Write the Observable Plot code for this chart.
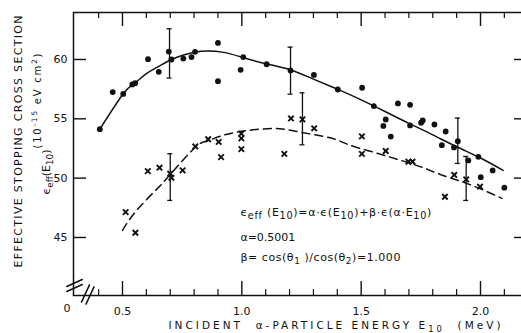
<!DOCTYPE html>
<html>
<head>
<meta charset="utf-8">
<script src="https://cdn.jsdelivr.net/npm/d3@7"></script>
<script src="https://cdn.jsdelivr.net/npm/@observablehq/plot@0.6"></script>
<style>
  html, body { margin: 0; padding: 0; background: #fff; }
  #chart svg { display: block; }
</style>
</head>
<body>
<div id="chart"></div>
<script>
// ---- data ----
const circleX = [0.405, 0.459, 0.503, 0.541, 0.553, 0.607, 0.652, 0.694, 0.705, 0.755, 0.789, 0.804, 0.900, 0.900,
  0.995, 1.006, 1.104, 1.204, 1.302, 1.402, 1.504, 1.553, 1.593, 1.603, 1.624, 1.654, 1.705, 1.705, 1.751, 1.758,
  1.807, 1.838, 1.854, 1.889, 1.905, 1.949, 1.991, 2.001, 2.051, 2.100];
const circleY = [54.13, 57.25, 57.10, 57.90, 58.00, 60.03, 58.96, 60.67, 60.00, 60.08, 60.20, 60.65, 61.40, 58.17,
  59.13, 60.20, 59.60, 59.07, 58.70, 57.47, 57.62, 56.07, 54.40, 54.95, 53.50, 56.30, 56.18, 54.44, 54.67, 54.86,
  54.52, 52.78, 53.93, 52.59, 53.12, 51.49, 51.80, 50.08, 50.65, 49.20];

const crossX = [0.513, 0.554, 0.606, 0.655, 0.700, 0.705, 0.752, 0.805, 0.859, 0.903, 0.913, 0.998, 0.998, 0.998,
  1.178, 1.206, 1.254, 1.303, 1.503, 1.503, 1.603, 1.698, 1.715, 1.851, 1.890, 1.940, 1.998];
const crossY = [47.14, 45.40, 50.59, 50.88, 50.37, 50.03, 50.65, 52.67, 53.28, 53.05, 51.77, 53.75, 53.35, 52.45,
  52.05, 55.03, 54.95, 54.20, 53.52, 52.05, 52.29, 51.38, 51.38, 48.43, 50.27, 49.90, 49.28];

// error bars: x, low, high
const circleBarX = [0.697, 1.204, 1.905];
const circleBarLo = [58.44, 57.08, 51.24];
const circleBarHi = [62.59, 61.04, 55.06];
const crossBarX = [0.700, 1.254, 1.940];
const crossBarLo = [48.12, 52.81, 48.12];
const crossBarHi = [52.06, 57.19, 51.83];

// fitted curves
const solidX = [0.405, 0.503, 0.547, 0.600, 0.650, 0.705, 0.760, 0.830, 0.924, 1.008, 1.107, 1.205, 1.300, 1.400, 1.500, 1.600, 1.700, 1.800, 1.900, 2.000, 2.095];
const solidY = [54.13, 57.11, 57.95, 58.80, 59.40, 60.00, 60.40, 60.70, 60.60, 60.14, 59.62, 59.12, 58.35, 57.50, 56.60, 55.62, 54.62, 53.65, 52.65, 51.70, 50.65];
const dashedX = [0.50, 0.56, 0.65, 0.70, 0.80, 0.85, 0.92, 1.00, 1.09, 1.17, 1.25, 1.37, 1.45, 1.55, 1.65, 1.75, 1.84, 1.95, 2.09];
const dashedY = [45.6, 47.3, 49.2, 50.3, 52.5, 53.1, 53.6, 53.95, 54.15, 54.15, 53.85, 53.4, 52.8, 52.2, 51.6, 50.95, 50.25, 49.5, 48.3];

// ticks
const xMajorTicks = [0.5, 1.0, 1.5, 2.0];
const xMinorTicks = [0.4, 0.6, 0.7, 0.8, 0.9, 1.1, 1.2, 1.3, 1.4, 1.6, 1.7, 1.8, 1.9, 2.1];
const yTicks = [45, 50, 55, 60];

// texts
const yTitle1 = "EFFECTIVE STOPPING CROSS SECTION";
const yTitle2 = "(10^{-15} eV cm^{2})";
const yTitle3 = "ϵ_{eff}(E_{10})";
const xTitle = "INCIDENT  α-PARTICLE ENERGY E_{10}  (MeV)";
const eqLines = ["ϵ_{eff} (E_{10})=α·ϵ(E_{10})+β·ϵ(α·E_{10})", "α=0.5001", "β= cos(θ_{1} )/cos(θ_{2})=1.000"];

// ---- tables ----
const circles = circleX.map((x, i) => ({x, y: circleY[i]}));
const crosses = crossX.map((x, i) => ({x, y: crossY[i]}));
const circleBars = circleBarX.map((x, i) => ({x, lo: circleBarLo[i], hi: circleBarHi[i]}));
const crossBars = crossBarX.map((x, i) => ({x, lo: crossBarLo[i], hi: crossBarHi[i]}));
const bars = circleBars.concat(crossBars);
const solid = solidX.map((x, i) => ({x, y: solidY[i]}));
const dashed = dashedX.map((x, i) => ({x, y: dashedY[i]}));

const W = 521, H = 333, mL = 73, mR = -1, mT = 12, mB = 38;
const frameH = H - mT - mB, frameW = W - mL - mR;
const ink = "#111";

const breakShape = {
  draw(context, l) { context.moveTo(0, 0); context.lineTo(0, -l); }
};

const svg = Plot.plot({
  width: W, height: H,
  marginLeft: mL, marginRight: mR, marginTop: mT, marginBottom: mB,
  style: {fontFamily: "DejaVu Sans", fontSize: "11px", color: ink, background: "#fff", overflow: "hidden"},
  x: {domain: [0.2947, 2.1760], label: null},
  y: {domain: [40.11, 63.96], label: null},
  marks: [
    Plot.frame({stroke: ink, strokeWidth: 1.5}),
    // ticks inward
    Plot.tickX(xMinorTicks, {x: d => d, insetTop: frameH - 6, stroke: ink, strokeWidth: 1.2}),
    Plot.tickX(xMinorTicks, {x: d => d, insetBottom: frameH - 6, stroke: ink, strokeWidth: 1.2}),
    Plot.tickX(xMajorTicks, {x: d => d, insetTop: frameH - 14, stroke: ink, strokeWidth: 1.4}),
    Plot.tickX(xMajorTicks, {x: d => d, insetBottom: frameH - 14, stroke: ink, strokeWidth: 1.4}),
    Plot.tickY(yTicks, {y: d => d, insetRight: frameW - 13, stroke: ink, strokeWidth: 1.4}),
    Plot.tickY(yTicks, {y: d => d, insetLeft: frameW - 8, stroke: ink, strokeWidth: 1.4}),
    Plot.axisX(xMajorTicks, {tickSize: 0, tickPadding: 12, tickFormat: d3.format(".1f"), fontSize: 11}),
    Plot.axisY(yTicks, {tickSize: 0, tickPadding: 6, fontSize: 11}),
    Plot.text(["0"], {frameAnchor: "bottom-left", dx: -10, dy: 16, fontSize: 11}),
    // axis breaks
    Plot.vector([0], {frameAnchor: "bottom-left", dx: 1, dy: -12.5, length: 17, rotate: 66, anchor: "middle", shape: breakShape, stroke: ink, strokeWidth: 1.5}),
    Plot.vector([0], {frameAnchor: "bottom-left", dx: 1, dy: -7.5, length: 17, rotate: 66, anchor: "middle", shape: breakShape, stroke: ink, strokeWidth: 1.5}),
    Plot.vector([0], {frameAnchor: "bottom-left", dx: 12, dy: -2, length: 19, rotate: 25, anchor: "middle", shape: breakShape, stroke: ink, strokeWidth: 1.5}),
    Plot.vector([0], {frameAnchor: "bottom-left", dx: 16.5, dy: 0, length: 19, rotate: 25, anchor: "middle", shape: breakShape, stroke: ink, strokeWidth: 1.5}),
    // curves
    Plot.line(solid, {x: "x", y: "y", curve: "natural", stroke: ink, strokeWidth: 1.5}),
    Plot.line(dashed, {x: "x", y: "y", curve: "natural", stroke: ink, strokeWidth: 1.5, strokeDasharray: "8,5"}),
    // error bars
    Plot.ruleX(bars, {x: "x", y1: "lo", y2: "hi", stroke: ink, strokeWidth: 1.3}),
    Plot.ruleY(bars, {y: "lo", x1: "x", x2: "x", insetLeft: -2.5, insetRight: -2.5, stroke: ink, strokeWidth: 1.3}),
    Plot.ruleY(bars, {y: "hi", x1: "x", x2: "x", insetLeft: -2.5, insetRight: -2.5, stroke: ink, strokeWidth: 1.3}),
    // points
    Plot.dot(circles, {x: "x", y: "y", r: 2.9, fill: ink, stroke: "none"}),
    Plot.dot(crosses, {x: "x", y: "y", symbol: "times", r: 2.6, stroke: ink, strokeWidth: 1.9}),
    // equation annotation
    Plot.text([eqLines[0]], {x: 0.994, y: 47.13, textAnchor: "start", fontSize: 11}),
    Plot.text([eqLines[1]], {x: 0.994, y: 45.0, textAnchor: "start", fontSize: 11}),
    Plot.text([eqLines[2]], {x: 0.994, y: 43.3, textAnchor: "start", fontSize: 11}),
    // axis titles
    Plot.text([yTitle1], {frameAnchor: "left", dx: -55, dy: 113.5, rotate: -90, textAnchor: "start", fontSize: 11}),
    Plot.text([yTitle2], {frameAnchor: "left", dx: -36, dy: -5.5, rotate: -90, textAnchor: "start", fontSize: 10}),
    Plot.text([yTitle3], {frameAnchor: "left", dx: -27, dy: 40.5, rotate: -90, fontSize: 11}),
    Plot.text([xTitle], {frameAnchor: "bottom", dx: -129.5, dy: 33, textAnchor: "start", fontSize: 10.5})
  ]
});

// rich text: _{sub} and ^{sup}
function richify(el, subSize) {
  const s = el.textContent;
  if (!/[_^]\{/.test(s)) return;
  while (el.firstChild) el.removeChild(el.firstChild);
  const re = /([_^])\{([^}]*)\}/g;
  let last = 0, m;
  const add = (t, kind) => {
    const ts = document.createElementNS("http://www.w3.org/2000/svg", "tspan");
    ts.textContent = t;
    if (kind === "_") { ts.setAttribute("baseline-shift", "-3"); ts.setAttribute("font-size", subSize || "80%"); }
    if (kind === "^") { ts.setAttribute("baseline-shift", "4"); ts.setAttribute("font-size", "75%"); }
    el.appendChild(ts);
  };
  while ((m = re.exec(s))) {
    if (m.index > last) add(s.slice(last, m.index), null);
    add(m[2], m[1]);
    last = re.lastIndex;
  }
  if (last < s.length) add(s.slice(last), null);
}
const lengths = new Map([[yTitle1, 252], [xTitle, 332], [yTitle2, 95], [eqLines[2], 160]]);
svg.querySelectorAll("text").forEach(t => {
  const s = t.textContent;
  if (lengths.has(s)) { t.setAttribute("textLength", lengths.get(s)); t.setAttribute("lengthAdjust", "spacing"); }
  if (s === eqLines[0]) { t.style.letterSpacing = "0.7px"; richify(t, "88%"); return; }
  richify(t);
});
document.getElementById("chart").appendChild(svg);
</script>
</body>
</html>
